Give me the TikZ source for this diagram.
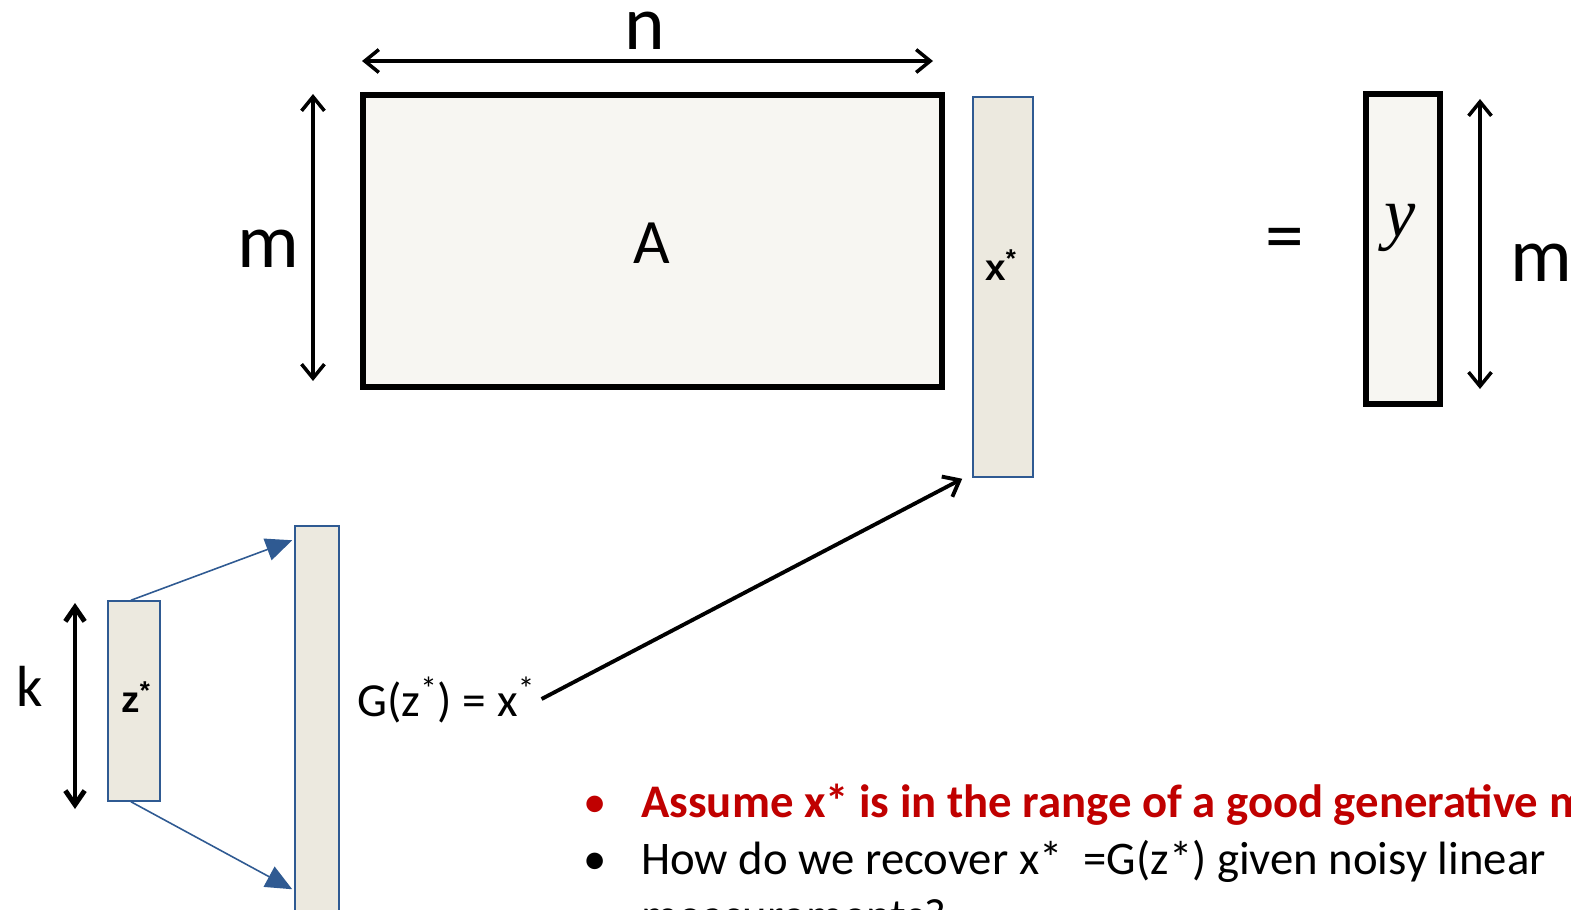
\documentclass[tikz,border=0pt]{standalone}
\usepackage{fontspec}
\setmainfont{Carlito}
\newfontfamily\serifit{Liberation Serif}
\newfontfamily\arialish{Liberation Sans}
\usetikzlibrary{arrows.meta,calc}
\definecolor{matfill}{HTML}{F7F6F2}
\definecolor{vecfill}{HTML}{ECE9DF}
\definecolor{vecblue}{HTML}{2F5A92}
\definecolor{alertred}{HTML}{C00000}
\tikzset{
  matbox/.style={draw=black,line width=3.4pt,fill=matfill,rectangle,inner sep=0pt},
  vecbox/.style={draw=vecblue,line width=0.9pt,fill=vecfill,rectangle,inner sep=0pt},
  dimarrow/.style={line width=2pt,{Straight Barb[length=8pt,width=13pt,line width=2pt]}-{Straight Barb[length=8pt,width=13pt,line width=2pt]}},
  kdimarrow/.style={line width=2.8pt,{Straight Barb[length=8pt,width=11pt,line width=2.8pt]}-{Straight Barb[length=8pt,width=11pt,line width=2.8pt]}},
  genarrow/.style={draw=vecblue,line width=0.9pt,-{Triangle[length=15pt,width=13pt,fill=vecblue]}},
  maparrow/.style={line width=2.2pt,-{Straight Barb[length=8pt,width=13pt,line width=2.2pt]}},
  lbl/.style={inner sep=0pt,font=\fontsize{44}{50}\selectfont},
  veclbl/.style={inner sep=0pt,font=\fontsize{21}{25}\selectfont\arialish\bfseries},
  bullettext/.style={anchor=base west,inner sep=0pt,font=\fontsize{26.6}{32}\selectfont},
}
\begin{document}
\begin{tikzpicture}[x=0.02cm,y=-0.02cm]
\useasboundingbox (0,0) rectangle (1571,909);
\clip (0,0) rectangle (1571,909);

% matrix A
\node[matbox,minimum width=11.58cm,minimum height=5.84cm] (A) at (652.5,241) {};
\node[inner sep=0pt,font=\fontsize{36}{40}\selectfont] (Alab) at (652,243) {A};

% n arrow
\coordinate (nL) at (362,61);
\coordinate (nR) at (933,61);
\draw[dimarrow] (nL) -- (nR);
\node[lbl] (nlab) at (645,31) {n};

% m left arrow
\coordinate (mT) at (313,94);
\coordinate (mB) at (313,381);
\draw[dimarrow] (mT) -- (mB);
\node[lbl] (mlab) at (268,249) {m};

% x* vector
\node[vecbox,minimum width=1.2cm,minimum height=7.6cm] (x) at (1003,287) {};
\node[veclbl] (xlab) at (1001,265) {x\textsuperscript{*}};

% equals
\node[lbl] (eq) at (1285,245) {=};

% y vector
\node[matbox,minimum width=1.48cm,minimum height=6.2cm] (y) at (1403,249) {};
\node[inner sep=0pt,font=\fontsize{40}{44}\selectfont\serifit\itshape] (ylab) at (1400,228) {y};

% m right arrow
\coordinate (m2T) at (1480,99);
\coordinate (m2B) at (1480,389);
\draw[dimarrow] (m2T) -- (m2B);
\node[lbl,anchor=west] (m2lab) at (1510,263) {m};

% z* vector
\node[vecbox,minimum width=1.04cm,minimum height=4cm] (z) at (134,701) {};
\node[veclbl] (zlab) at (136,697) {z\textsuperscript{*}};

% k arrow
\coordinate (kT) at (75,603);
\coordinate (kB) at (75,809);
\draw[kdimarrow] (kT) -- (kB);
\node[inner sep=0pt,font=\fontsize{33}{38}\selectfont] (klab) at (30,686) {k};

% generated column
\node[vecbox,minimum width=0.88cm,minimum height=8cm] (col) at (317,726) {};

% generator arrows
\draw[genarrow] ($(z.north)+(-3,0)$) -- ($(col.north west)+(-2,15)$);
\draw[genarrow] ($(z.south)+(-3,0)$) -- ($(col.north west)+(-2,364)$);

% G(z*) = x*
\node[inner sep=0pt,font=\fontsize{27}{32}\selectfont,anchor=west] (G) at (357,700) {G(z\textsuperscript{*}) = x\textsuperscript{*}};

% map arrow
\draw[maparrow] ($(G.east)+(6,-1)$) -- ($(x.south west)+(-10,1)$);

% bullets
\node[bullettext,text=alertred] (b1dot) at (583,817) {\textbullet};
\node[bullettext,text=alertred,font=\fontsize{26.6}{32}\selectfont\bfseries] (b1) at (641,817) {Assume x* is in the range of a good generative model};
\node[bullettext] (b2dot) at (583,874) {\textbullet};
\node[bullettext] (b2) at (641,874) {How do we recover x*~ =G(z*) given noisy linear};
\node[bullettext] (b3) at (641,931) {measurements?};
\end{tikzpicture}
\end{document}
